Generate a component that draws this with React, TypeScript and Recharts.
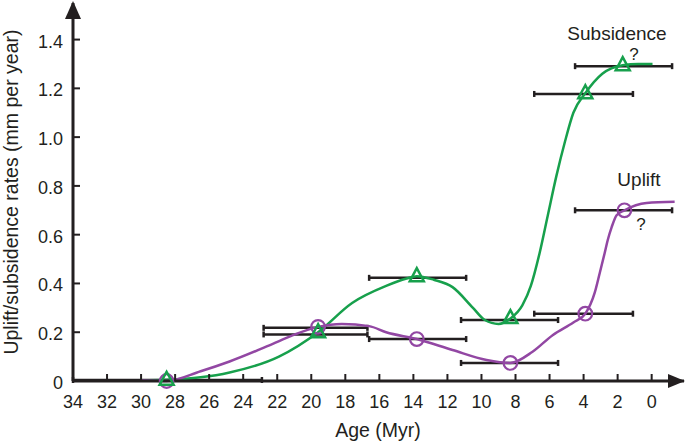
import React from "react";
import { ComposedChart, Line, Scatter, XAxis, YAxis, ErrorBar, ReferenceDot } from "recharts";

const ink = "#231f20";
const green = "#17a04c";
const purple = "#9247a3";
const font = "'Liberation Sans', Arial, Helvetica, sans-serif";

const xTicks = [34, 32, 30, 28, 26, 24, 22, 20, 18, 16, 14, 12, 10, 8, 6, 4, 2, 0];
const yTicks = [0, 0.2, 0.4, 0.6, 0.8, 1.0, 1.2, 1.4];

// dated points
const subsidenceAges = [28.5, 19.6, 13.8, 8.3, 3.9, 1.7];
const subsidenceRates = [0.005, 0.2, 0.43, 0.258, 1.18, 1.295];
const upliftAges = [28.5, 19.6, 13.8, 8.3, 3.9, 1.6];
const upliftRates = [0.0, 0.222, 0.172, 0.074, 0.276, 0.7];

// hand-drawn trend curves
const subsidenceCurveAges = [30, 28.5, 26.5, 24.8, 21.9, 19.6, 17.6, 15.6, 14.4, 13.8, 12.8, 11.7, 10.5, 9.8, 9.0, 8.3, 7.6, 7.1, 6.6, 6.1, 5.6, 5.1, 4.6, 3.9, 2.9, 1.7, 0.8, -0.05];
const subsidenceCurveRates = [0.003, 0.005, 0.015, 0.035, 0.1, 0.2, 0.32, 0.39, 0.42, 0.43, 0.415, 0.385, 0.3, 0.25, 0.234, 0.256, 0.31, 0.39, 0.52, 0.68, 0.84, 0.98, 1.1, 1.18, 1.26, 1.295, 1.3, 1.3];
const upliftCurveAges = [30, 28.5, 26.5, 24.8, 22.5, 21.0, 19.6, 18.2, 16.6, 15.6, 13.8, 11.7, 9.7, 8.3, 7.0, 5.8, 4.6, 3.9, 3.35, 3.05, 2.76, 2.58, 2.35, 2.06, 1.6, 0.3, -1.35];
const upliftCurveRates = [0.003, 0.0, 0.04, 0.08, 0.145, 0.19, 0.222, 0.234, 0.225, 0.2, 0.172, 0.127, 0.086, 0.074, 0.12, 0.189, 0.24, 0.276, 0.361, 0.443, 0.525, 0.578, 0.631, 0.68, 0.7, 0.73, 0.735];

// age uncertainty bars
const barOldest = [34, 22.8, 22.8, 16.6, 16.6, 11.2, 11.2, 6.9, 6.9, 4.5, 4.5];
const barYoungest = [22.9, 16.7, 16.7, 10.9, 10.9, 5.5, 5.5, 1.1, 1.1, -1.2, -1.2];
const barRates = [0.004, 0.218, 0.191, 0.423, 0.172, 0.25, 0.074, 0.276, 1.177, 1.291, 0.7];

const toRows = (ages: number[], vals: number[]) => ages.map((age, i) => ({ age, val: vals[i] }));

const subsidencePts = toRows(subsidenceAges, subsidenceRates);
const upliftPts = toRows(upliftAges, upliftRates);
const subsidenceCurve = toRows(subsidenceCurveAges, subsidenceCurveRates);
const upliftCurve = toRows(upliftCurveAges, upliftCurveRates);
const bars = barOldest.map((from, i) => ({
  age: (from + barYoungest[i]) / 2,
  val: barRates[i],
  err: (from - barYoungest[i]) / 2,
}));

const XTick = (props: any) => {
  const { x, y, payload } = props;
  return (
    <g>
      <line x1={x} x2={x} y1={y} y2={y - 7} stroke={ink} strokeWidth={2} />
      <text x={x} y={y + 27} textAnchor="middle" fontSize={18} fontFamily={font} fill={ink}>
        {payload.value}
      </text>
    </g>
  );
};

const YTick = (props: any) => {
  const { x, y, payload } = props;
  const v = payload.value as number;
  return (
    <g>
      <line x1={x} x2={x + 7} y1={y} y2={y} stroke={ink} strokeWidth={2} />
      <text x={x - 10} y={y + 8} textAnchor="end" fontSize={18} fontFamily={font} fill={ink}>
        {v === 0 ? "0" : v.toFixed(1)}
      </text>
    </g>
  );
};

const Triangle = (props: any) => {
  const { cx, cy } = props;
  return (
    <polygon
      points={`${cx},${cy - 8} ${cx - 7},${cy + 5} ${cx + 7},${cy + 5}`}
      fill="none"
      stroke={green}
      strokeWidth={2.5}
    />
  );
};

const Ring = (props: any) => {
  const { cx, cy } = props;
  return <circle cx={cx} cy={cy} r={6.8} fill="none" stroke={purple} strokeWidth={2.2} />;
};

const Nothing = () => <g />;

const ArrowRight = (props: any) => {
  const { cx, cy } = props;
  return <polygon points={`${cx + 1},${cy} ${cx - 16},${cy - 7} ${cx - 16},${cy + 7}`} fill={ink} />;
};

const ArrowUp = (props: any) => {
  const { cx, cy } = props;
  return <polygon points={`${cx},${cy - 2} ${cx - 8},${cy + 16} ${cx + 8},${cy + 16}`} fill={ink} />;
};

export default function App() {
  return (
    <div style={{ position: "absolute", left: 0, top: 0, width: 685, height: 442, background: "#fff" }}>
      <ComposedChart width={685} height={442} margin={{ top: 3, right: 1, bottom: 0, left: 0 }}>
        <XAxis
          type="number"
          dataKey="age"
          domain={[-1.9, 34]}
          reversed
          ticks={xTicks}
          tick={<XTick />}
          tickLine={false}
          tickSize={0}
          tickMargin={0}
          height={61}
          axisLine={{ stroke: ink, strokeWidth: 3 }}
          interval={0}
        />
        <YAxis
          type="number"
          dataKey="val"
          domain={[0, 1.55]}
          ticks={yTicks}
          tick={<YTick />}
          tickLine={false}
          tickSize={0}
          tickMargin={0}
          width={73}
          axisLine={{ stroke: ink, strokeWidth: 3 }}
          interval={0}
        />
        <Scatter data={bars} dataKey="val" shape={<Nothing />} isAnimationActive={false}>
          <ErrorBar dataKey="err" direction="x" width={3} stroke={ink} strokeWidth={2.5} isAnimationActive={false} />
        </Scatter>
        <Line data={subsidenceCurve} dataKey="val" type="monotone" stroke={green} strokeWidth={2.5} dot={false} isAnimationActive={false} />
        <Line data={upliftCurve} dataKey="val" type="monotone" stroke={purple} strokeWidth={2.5} dot={false} isAnimationActive={false} />
        <Scatter data={upliftPts} dataKey="val" shape={<Ring />} isAnimationActive={false} />
        <Scatter data={subsidencePts} dataKey="val" shape={<Triangle />} isAnimationActive={false} />
        <ReferenceDot x={-1.9} y={0} r={0} shape={<ArrowRight />} ifOverflow="visible" />
        <ReferenceDot x={34} y={1.55} r={0} shape={<ArrowUp />} ifOverflow="visible" />
      </ComposedChart>
      <svg width={685} height={442} style={{ position: "absolute", left: 0, top: 0, pointerEvents: "none" }}>
        <text x={18} y={192} transform="rotate(-90 18 192)" textAnchor="middle" fontSize={19.5} fontFamily={font} fill={ink}>
          Uplift/subsidence rates (mm per year)
        </text>
        <text x={378} y={437} textAnchor="middle" fontSize={19.5} fontFamily={font} fill={ink}>
          Age (Myr)
        </text>
        <text x={617} y={40} textAnchor="middle" fontSize={19} fontFamily={font} fill={ink}>
          Subsidence
        </text>
        <text x={634} y={60} textAnchor="middle" fontSize={17} fontFamily={font} fill={ink}>
          ?
        </text>
        <text x={639} y={186} textAnchor="middle" fontSize={19} fontFamily={font} fill={ink}>
          Uplift
        </text>
        <text x={641} y={230} textAnchor="middle" fontSize={17} fontFamily={font} fill={ink}>
          ?
        </text>
      </svg>
    </div>
  );
}
